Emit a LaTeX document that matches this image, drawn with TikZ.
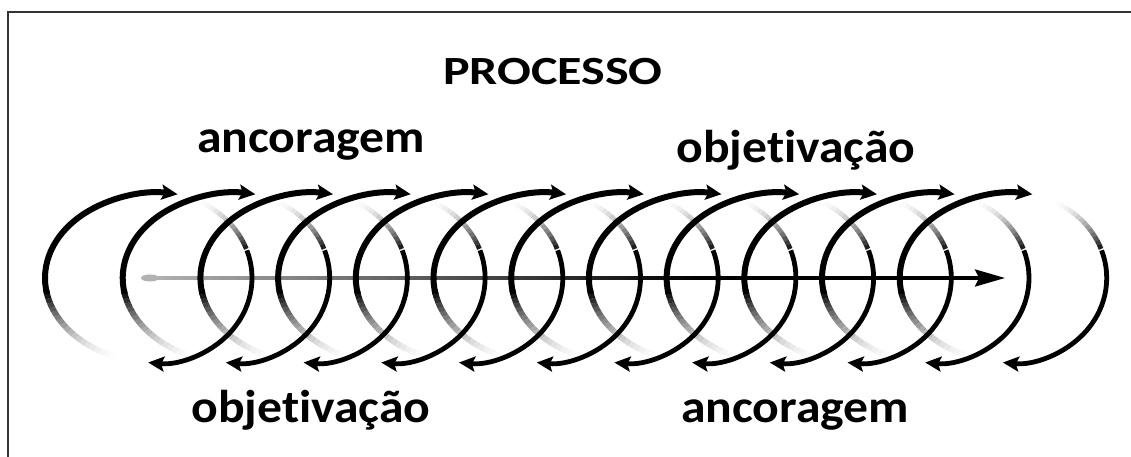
\documentclass[tikz,border=0pt]{standalone}
\usepackage{fontspec}
\setmainfont{Carlito}[Ligatures=CommonOff]
\usetikzlibrary{arrows.meta,calc}
\begin{document}
\begin{tikzpicture}[x=1pt,y=1pt,
  lbl/.style={font=\fontsize{46}{50}\selectfont\bfseries, inner sep=0pt},
  ttl/.style={font=\fontsize{40}{44}\selectfont\bfseries, inner sep=0pt},
  frontarc/.style={line width=6pt, line cap=butt},
  backarc/.style={line width=4.8pt, line cap=butt},
  tipa/.style={-{Stealth[length=16pt,width=15pt,inset=3pt]}},
  axistip/.style={-{Stealth[length=30pt,width=17pt,inset=4pt]}},
]
\useasboundingbox (0,0) rectangle (1131,457);
% frame
\draw[line width=2pt, black!80] (1131,445) -- (8,445) -- (8,0);

% axis
\coordinate (axL) at (150,179);
\coordinate (axM) at (700,179);
\coordinate (axR) at (1005,179);
\fill[black!30] (axL) ellipse[x radius=9pt, y radius=3.5pt];
\shade[left color=black!30, right color=black] ($(axL)+(0,-1.6)$) rectangle ($(axM)+(0,1.6)$);
\draw[line width=3.2pt, axistip] (axM) -- (axR);

% coils
\foreach \k in {0,...,11}{
  \pgfmathsetmacro\cx{158+77.7*\k}
  % front C arc (fades at bottom)
  \foreach \a in {188,191,...,248}{
    \pgfmathsetmacro\p{(max(0,(251-\a)/63))^2}
    \draw[frontarc, black, draw opacity=\p] ({\cx+113*cos(\a)},{179+85*sin(\a)}) arc[start angle=\a, end angle=\a+3, x radius=113, y radius=85];
  }
  \draw[frontarc, tipa] ({\cx+113*cos(191)},{179+85*sin(191)}) arc[start angle=191, end angle=80, x radius=113, y radius=85];
  % back ) arc (fades at top)
  \foreach \a in {68,65,...,22}{
    \pgfmathsetmacro\p{(min(1,max(0,(68-\a)/48)))^2}
    \draw[backarc, black, draw opacity=\p] ({\cx+94*cos(\a)},{179+85*sin(\a)}) arc[start angle=\a, end angle=\a-3, x radius=94, y radius=85];
  }
  \draw[backarc, tipa] ({\cx+94*cos(19)},{179+85*sin(19)}) arc[start angle=19, end angle=-96, x radius=94, y radius=85];
}

% labels
\node[ttl, xscale=1.25, transform shape] (proc) at (553,385) {PROCESSO};
\node[lbl, anchor=base, xscale=1.08, transform shape] (anc1) at (311,304) {ancoragem};
\node[lbl, anchor=base, xscale=1.08, transform shape] (obj1) at (796,294) {objetivação};
\node[lbl, anchor=base, xscale=1.08, transform shape] (obj2) at (311,34) {objetivação};
\node[lbl, anchor=base, xscale=1.08, transform shape] (anc2) at (795,34) {ancoragem};
\end{tikzpicture}
\end{document}
